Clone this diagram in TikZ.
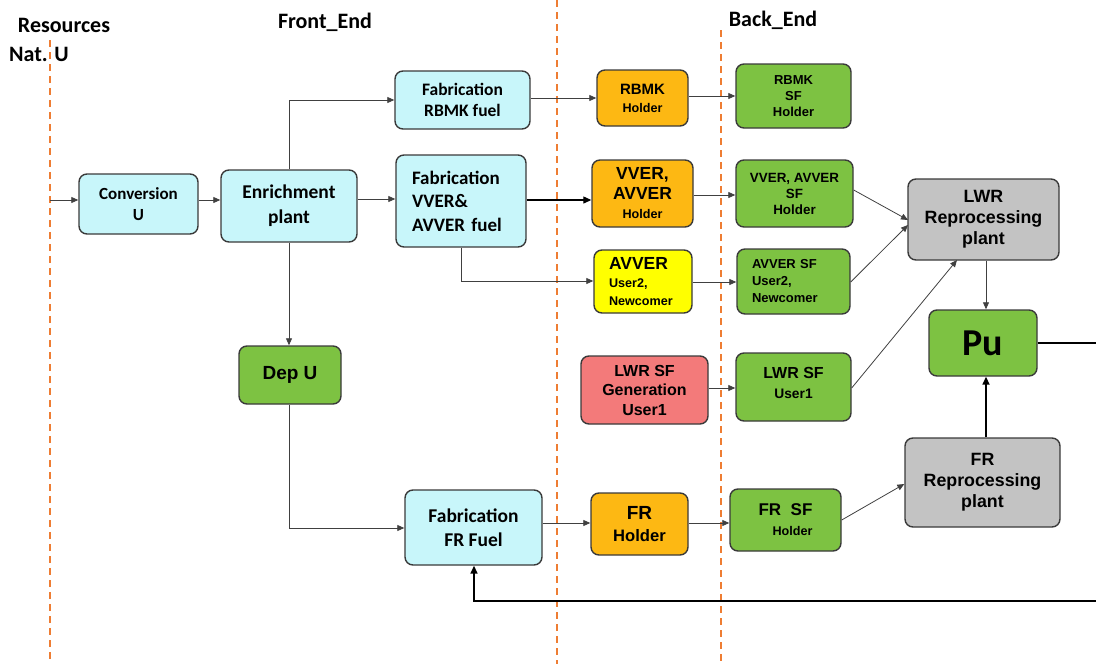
\documentclass[tikz,border=0pt]{standalone}
\usepackage{fontspec}
\setmainfont{Liberation Sans}
\newfontfamily\calfont{Carlito}
\usetikzlibrary{arrows.meta}
\definecolor{cyanf}{HTML}{C8F6FA}
\definecolor{orangef}{HTML}{FDB813}
\definecolor{greenf}{HTML}{7DC242}
\definecolor{grayf}{HTML}{C3C3C3}
\definecolor{yellowf}{HTML}{FFFF00}
\definecolor{redf}{HTML}{F37A7A}
\definecolor{dashc}{HTML}{EE7D33}
\definecolor{edgec}{HTML}{3A3A3A}
\newcommand{\fs}[2]{\fontsize{#1}{#2}\selectfont}
\tikzset{
  box/.style={draw=edgec, line width=1.4pt, rounded corners=8pt, align=center, inner sep=2pt, font=\bfseries},
  cy/.style={box, fill=cyanf},
  og/.style={box, fill=orangef},
  gr/.style={box, fill=greenf},
  gy/.style={box, fill=grayf},
  yl/.style={box, fill=yellowf},
  rd/.style={box, fill=redf},
  conn/.style={draw=black!75, line width=0.8pt, -{Triangle[length=7pt,width=6pt]}},
  connb/.style={draw=black, line width=1.6pt, -{Triangle[length=8pt,width=7pt]}},
  sep/.style={draw=dashc, line width=1.6pt, dash pattern=on 7pt off 5pt},
  lbl/.style={font=\calfont\bfseries\fs{22}{24}}
}
\begin{document}
\begin{tikzpicture}[x=1pt,y=-1pt]
\useasboundingbox (0,0) rectangle (1096,664);
% separators
\draw[sep] (50,40) -- (50,664);
\draw[sep] (557,0) -- (557,664);
\draw[sep] (721,30) -- (721,664);
% labels
\node[lbl] (res) at (64,25) {Resources};
\node[lbl] (natu) at (39,54) {Nat. U};
\node[lbl] (fe) at (325,22) {Front\_End};
\node[lbl] (be) at (773,20) {Back\_End};
% nodes
\node[cy, minimum width=119pt, minimum height=60pt, font=\calfont\bfseries\fs{17}{21}] (conv) at (138.5,204) {Conversion\\U};
\node[cy, minimum width=136pt, minimum height=72pt, font=\calfont\bfseries\fs{19.5}{25}] (enr) at (289,206) {Enrichment\\plant};
\node[cy, minimum width=135pt, minimum height=58pt, font=\calfont\bfseries\fs{17.5}{21}] (fabR) at (462.5,100) {Fabrication\\RBMK fuel};
\node[cy, minimum width=130pt, minimum height=92pt, align=left, text width=98pt, font=\calfont\bfseries\fs{19}{23.5}] (fabV) at (461,201) {Fabrication\\VVER\&\\AVVER fuel};
\node[gr, minimum width=102pt, minimum height=58pt, font=\bfseries\fs{19}{22}] (dep) at (290,375) {Dep U};
\node[cy, minimum width=137pt, minimum height=75pt, font=\calfont\bfseries\fs{19.5}{24}] (fabF) at (473.5,527.5) {Fabrication\\FR Fuel};
\node[og, minimum width=91pt, minimum height=56pt, font=\bfseries\fs{12.6}{18}] (rbmkH) at (642.5,98) {\fs{15}{18}RBMK\\\fs{12.6}{18}Holder};
\node[og, minimum width=101pt, minimum height=67pt, font=\bfseries\fs{12.6}{19.5}] (vverH) at (642.5,193.5) {\fs{17.5}{19.5}VVER,\\\fs{17.5}{19.5}AVVER\\\fs{12.6}{19.5}Holder};
\node[yl, minimum width=98pt, minimum height=63pt, align=left, text width=68pt, font=\bfseries\fs{12.6}{18}] (avv) at (643,281.5) {\fs{17.5}{18}AVVER\\\fs{12.6}{18}User2,\\\fs{12.6}{18}Newcomer};
\node[rd, minimum width=127pt, minimum height=68pt, font=\bfseries\fs{16}{19.5}] (lgen) at (644.5,390) {LWR SF\\Generation\\User1};
\node[og, minimum width=97pt, minimum height=62pt, font=\bfseries\fs{16.6}{22}] (frH) at (639.5,524) {\fs{19}{22}FR\\\fs{16.6}{22}Holder};
\node[gr, minimum width=115pt, minimum height=64pt, font=\bfseries\fs{13}{16}] (rbmkSF) at (793.5,96) {RBMK\\SF\\Holder};
\node[gr, minimum width=117pt, minimum height=67pt, font=\bfseries\fs{13.4}{16}] (vverSF) at (794.5,193.5) {VVER, AVVER\\SF\\Holder};
\node[gr, minimum width=113pt, minimum height=65pt, align=left, text width=83pt, font=\bfseries\fs{13}{17}] (avvSF) at (793.5,281.5) {AVVER SF\\User2,\\Newcomer};
\node[gr, minimum width=115pt, minimum height=68pt, font=\bfseries\fs{13.8}{20}, text depth=8pt] (lwrSF) at (793.5,387) {\fs{16}{20}LWR SF\\\fs{13.8}{20}User1};
\node[gr, minimum width=111pt, minimum height=62pt, font=\bfseries\fs{12.6}{20}] (frSF) at (785.5,520) {\fs{17}{20}FR~~SF\\\fs{12.6}{20}\hspace*{14pt}Holder};
\node[gy, minimum width=151pt, minimum height=81pt, font=\bfseries\fs{17.8}{21}] (lwrRep) at (983.5,219.5) {LWR\\Reprocessing\\plant};
\node[gr, minimum width=108pt, minimum height=66pt, font=\calfont\bfseries\fs{38}{40}] (pu) at (983,343) {Pu};
\node[gy, minimum width=155pt, minimum height=89pt, font=\bfseries\fs{17.8}{21}] (frRep) at (982.5,482.5) {FR\\Reprocessing\\plant};
% coordinates
\coordinate (src) at (50,200);
\coordinate (c1) at (289,100);
\coordinate (c2) at (289,528);
\coordinate (c3) at (461,281);
\coordinate (c4) at (1100,343);
\coordinate (c5) at (1100,601);
\coordinate (c6) at (474,601);
% connectors
\draw[conn] (src) -- (conv.west |- src);
\draw[conn] (conv.east |- 0,200) -- (enr.west |- 0,200);
\draw[conn] (enr.east |- 0,199) -- (fabV.west |- 0,199);
\draw[conn] (enr.north -| c1) -- (c1) -- (fabR.west |- c1);
\draw[conn] (enr.south -| c1) -- (dep.north -| c1);
\draw[conn] (dep.south -| c2) -- (c2) -- (fabF.west |- c2);
\draw[conn] (fabR.east |- 0,98) -- (rbmkH.west |- 0,98);
\draw[conn] (rbmkH.east |- 0,96) -- (rbmkSF.west |- 0,96);
\draw[connb, line width=1.2pt] (fabV.east |- 0,200) -- (vverH.west |- 0,200);
\draw[conn] (vverH.east |- 0,195) -- (vverSF.west |- 0,195);
\draw[conn] (fabV.south -| c3) -- (c3) -- (avv.west |- c3);
\draw[conn] (avv.east |- 0,282) -- (avvSF.west |- 0,282);
\draw[conn] (lgen.east |- 0,388) -- (lwrSF.west |- 0,388);
\draw[conn] (fabF.east |- 0,523) -- (frH.west |- 0,523);
\draw[conn] (frH.east |- 0,523) -- (frSF.west |- 0,523);
\draw[conn] (vverSF.east |- 0,190) -- (908,220);
\draw[conn] (avvSF.east |- 0,282) -- (908,225);
\draw[conn] (lwrSF.east |- 0,388) -- (957,260);
\draw[conn] (lwrRep.south -| 986,0) -- (pu.north -| 986,0);
\draw[connb] (frRep.north -| 986,0) -- (pu.south -| 986,0);
\draw[conn] (frSF.east |- 0,520) -- (frRep.west |- 0,484);
\draw[connb] (pu.east) -- (c4) -- (c5) -- (c6) -- (fabF.south -| c6);
\end{tikzpicture}
\end{document}
